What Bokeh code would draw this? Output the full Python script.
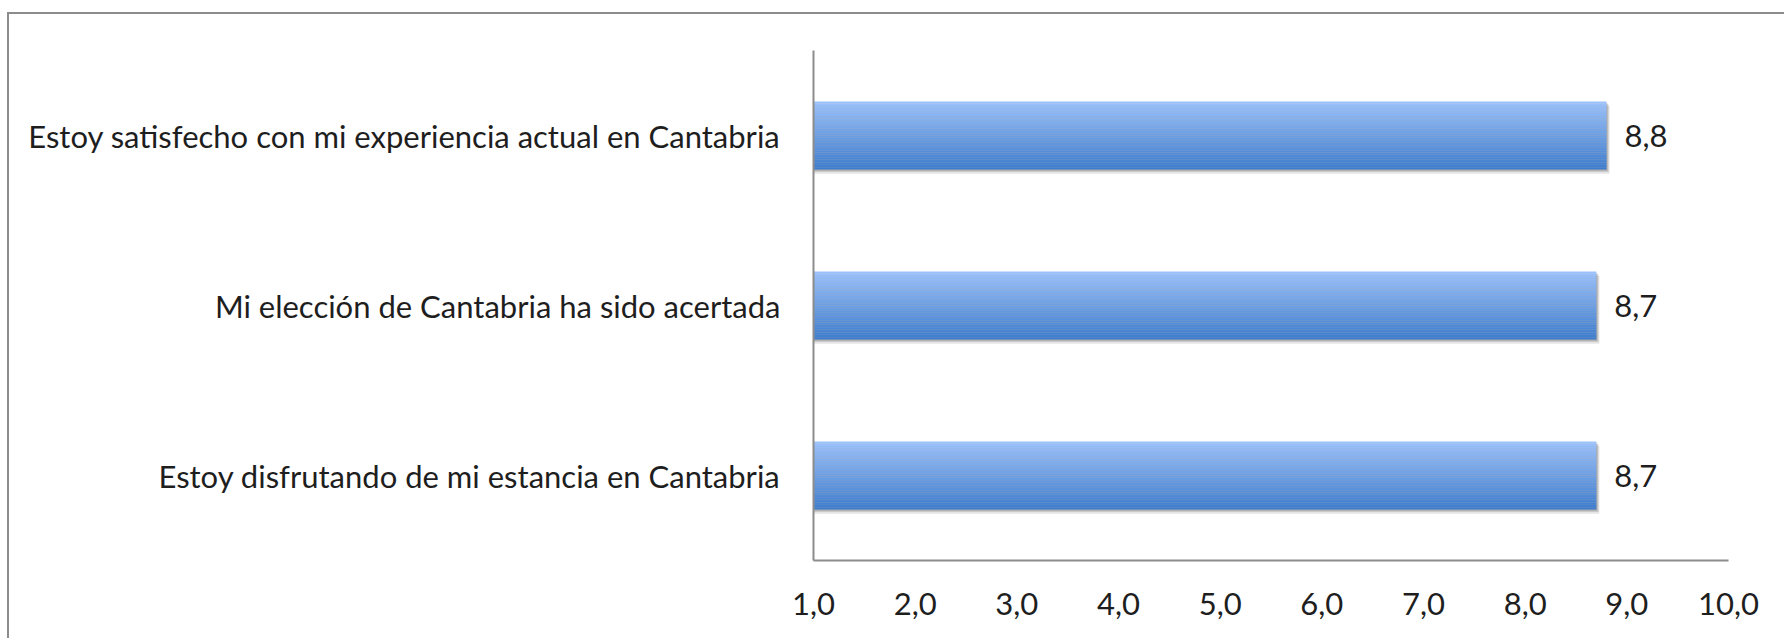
from bokeh.plotting import figure
from bokeh.models import FixedTicker, ColumnDataSource, Range1d
from bokeh.embed import file_html
from bokeh.resources import INLINE
from bokeh.core.properties import value

# ---- data ----
categories = [
    "Estoy satisfecho con mi experiencia actual en Cantabria",
    "Mi elección de Cantabria ha sido acertada",
    "Estoy disfrutando de mi estancia en Cantabria",
]
scores = [8.8, 8.7, 8.7]
score_labels = ["8,8", "8,7", "8,7"]
x_ticks = [1, 2, 3, 4, 5, 6, 7, 8, 9, 10]
x_tick_labels = ["1,0", "2,0", "3,0", "4,0", "5,0", "6,0", "7,0", "8,0", "9,0", "10,0"]

FONT = "Lato"
TXT = "#1e1e1e"
AX = "#8c8c8c"

n = len(categories)
ypos = [n - 1 - i for i in range(n)]  # top first

p = figure(
    width=1777, height=626,
    x_range=Range1d(1, 10), y_range=Range1d(-0.5, n - 0.5),
    output_backend="svg", toolbar_location=None,
    min_border_left=804, min_border_right=58, min_border_top=36, min_border_bottom=80,
)
p.styles = {
    "margin-top": "12px",
    "margin-left": "7px",
    "border-top": f"2px solid {AX}",
    "border-left": f"2px solid {AX}",
}
p.outline_line_color = None
p.grid.visible = False
p.background_fill_color = "white"
p.border_fill_color = "white"

bar_h = 0.4

# shadow
for dx, dy, a in [(0.03, 0.025, 0.10), (0.02, 0.015, 0.12), (0.01, 0.008, 0.15)]:
    p.hbar(y=[y - dy for y in ypos], left=1, right=[s + dx for s in scores],
           height=bar_h, fill_color="#000000", fill_alpha=a, line_color=None)

# gradient bar (stacked thin slices)
N = 40
top = (156, 194, 252)
bot = (61, 124, 205)
for k in range(N):
    t = (k + 0.5) / N
    c = tuple(int(round(top[j] + (bot[j] - top[j]) * t)) for j in range(3))
    col = "#%02x%02x%02x" % c
    p.hbar(y=[y + bar_h / 2 - (k + 0.5) * bar_h / N for y in ypos], left=1, right=scores,
           height=bar_h / N * 1.05, fill_color=col, line_color=None)

# value labels
src = ColumnDataSource(dict(x=scores, y=ypos, t=score_labels))
p.text(x="x", y="y", text="t", source=src, x_offset=18, text_align="left",
       text_baseline="middle", text_font=value(FONT), text_font_size="31px", text_color=TXT)

# axes
p.xaxis.ticker = FixedTicker(ticks=x_ticks)
p.xaxis.major_label_overrides = {t: l for t, l in zip(x_ticks, x_tick_labels)}
p.yaxis.ticker = FixedTicker(ticks=ypos)
p.yaxis.major_label_overrides = {y: c for y, c in zip(ypos, categories)}
for ax in (p.xaxis, p.yaxis):
    ax.axis_line_color = AX
    ax.axis_line_width = 2
    ax.major_tick_line_color = None
    ax.minor_tick_line_color = None
    ax.major_label_text_font = FONT
    ax.major_label_text_font_size = "31px"
    ax.major_label_text_color = TXT
p.xaxis.major_label_standoff = 26
p.yaxis.major_label_standoff = 27

open("out.html", "w").write(file_html(p, INLINE))
